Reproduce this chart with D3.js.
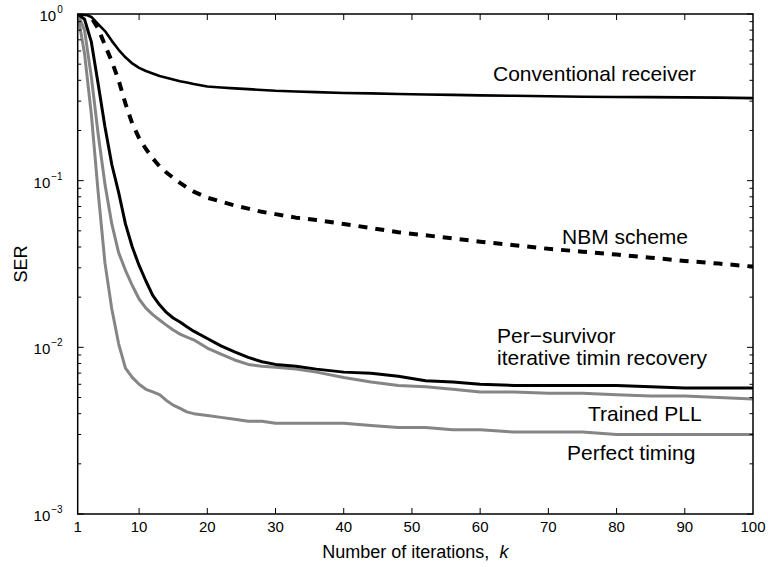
<!DOCTYPE html>
<html>
<head>
<meta charset="utf-8">
<script src="https://cdn.jsdelivr.net/npm/d3@7"></script>
<style>
  body { margin: 0; background: #fff; }
  text { font-family: "Liberation Sans", Arial, Helvetica, sans-serif; fill: #000; }
</style>
</head>
<body>
<div id="wrapper"></div>
<script>
// iteration index shared by every curve
const iterations = [1, 2, 3, 4, 5, 6, 7, 8, 9, 10, 11, 12, 13, 14, 15, 16, 17, 18, 20, 22,
    24, 26, 28, 30, 33, 36, 40, 44, 48, 52, 56, 60, 65, 70, 75, 80, 85, 90, 95, 100];

const conventional = [1, 1, 0.96, 0.87, 0.79, 0.69, 0.61, 0.55, 0.505, 0.475, 0.455, 0.44, 0.425, 0.415,
    0.405, 0.395, 0.388, 0.38, 0.367, 0.362, 0.358, 0.354, 0.35, 0.346, 0.343, 0.34, 0.336, 0.334,
    0.331, 0.329, 0.327, 0.325, 0.323, 0.321, 0.319, 0.318, 0.317, 0.316, 0.315, 0.313];

const nbm = [1, 1, 0.95, 0.82, 0.65, 0.52, 0.40, 0.29, 0.22, 0.18, 0.155, 0.136, 0.122, 0.112, 0.104,
    0.097, 0.091, 0.086, 0.079, 0.075, 0.071, 0.068, 0.065, 0.063, 0.060, 0.058, 0.055, 0.052, 0.049,
    0.047, 0.045, 0.043, 0.041, 0.039, 0.0375, 0.036, 0.0345, 0.033, 0.0318, 0.0305];

const perSurvivor = [1, 0.93, 0.68, 0.38, 0.21, 0.125, 0.085, 0.055, 0.04, 0.031, 0.025, 0.0205, 0.018,
    0.0162, 0.015, 0.0142, 0.0133, 0.0125, 0.0113, 0.0102, 0.0094, 0.0087, 0.0082, 0.0079, 0.0077,
    0.0074, 0.0071, 0.0070, 0.0067, 0.0063, 0.0062, 0.0060, 0.0059, 0.0059, 0.0059, 0.0059, 0.0058,
    0.0057, 0.0057, 0.0057];

const trainedPll = [1, 0.8, 0.42, 0.19, 0.095, 0.055, 0.037, 0.029, 0.0235, 0.0195, 0.0172, 0.0157,
    0.0146, 0.0136, 0.0127, 0.012, 0.0115, 0.0111, 0.0099, 0.0091, 0.0084, 0.0079, 0.0077, 0.0076,
    0.0074, 0.0071, 0.0066, 0.0062, 0.0059, 0.0058, 0.0056, 0.0054, 0.0054, 0.0053, 0.0053, 0.0052,
    0.0051, 0.0051, 0.0050, 0.0049];

const perfectTiming = [1, 0.58, 0.25, 0.085, 0.032, 0.017, 0.0105, 0.0075, 0.0066, 0.006, 0.0056,
    0.0054, 0.0052, 0.0048, 0.0045, 0.0043, 0.0041, 0.0040, 0.0039, 0.0038, 0.0037, 0.0036, 0.0036,
    0.0035, 0.0035, 0.0035, 0.0035, 0.0034, 0.0033, 0.0033, 0.0032, 0.0032, 0.0031, 0.0031, 0.0031,
    0.0030, 0.0030, 0.0030, 0.0030, 0.0030];

const xTicks = [1, 10, 20, 30, 40, 50, 60, 70, 80, 90, 100];
const yDecades = [0, -1, -2, -3];

const series = [
    { name: 'perfect', values: perfectTiming, color: '#858585', width: 3, dash: null },
    { name: 'trained', values: trainedPll, color: '#858585', width: 3, dash: null },
    { name: 'survivor', values: perSurvivor, color: '#000', width: 3, dash: null },
    { name: 'nbm', values: nbm, color: '#000', width: 4, dash: '9,8' },
    { name: 'conventional', values: conventional, color: '#000', width: 2.6, dash: null },
];

const labels = [
    { text: 'Conventional receiver', x: 493, y: 81 },
    { text: 'NBM scheme', x: 562, y: 244 },
    { text: 'Per\u2212survivor', x: 497, y: 343 },
    { text: 'iterative timin recovery', x: 497, y: 365 },
    { text: 'Trained PLL', x: 588, y: 421 },
    { text: 'Perfect timing', x: 567, y: 460 },
];

const width = 768;
const height = 567;
const plot = { left: 77.7, right: 753, top: 14, bottom: 514 };

const svg = d3.select('#wrapper')
    .append('svg')
    .attr('width', width)
    .attr('height', height);

const x = d3.scaleLinear()
    .domain([1, 100])
    .range([plot.left, plot.right]);

const y = d3.scaleLog()
    .domain([1e-3, 1])
    .range([plot.bottom, plot.top]);

svg.append('defs')
    .append('clipPath')
    .attr('id', 'plot-clip')
    .append('rect')
    .attr('x', plot.left)
    .attr('y', plot.top)
    .attr('width', plot.right - plot.left)
    .attr('height', plot.bottom - plot.top);

// curves
const line = d3.line()
    .x((d, i) => x(iterations[i]))
    .y(d => y(d));

svg.append('g')
    .attr('clip-path', 'url(#plot-clip)')
    .selectAll('path')
    .data(series)
    .join('path')
    .attr('d', d => line(d.values))
    .attr('fill', 'none')
    .attr('stroke', d => d.color)
    .attr('stroke-width', d => d.width)
    .attr('stroke-dasharray', d => d.dash)
    .attr('stroke-linejoin', 'round');

// ticks, drawn inward on all four sides
const ticks = svg.append('g')
    .attr('stroke', '#000')
    .attr('stroke-width', 1);

xTicks.slice(1, -1).forEach(t => {
    ticks.append('line').attr('x1', x(t)).attr('x2', x(t))
        .attr('y1', plot.bottom).attr('y2', plot.bottom - 6);
    ticks.append('line').attr('x1', x(t)).attr('x2', x(t))
        .attr('y1', plot.top).attr('y2', plot.top + 6);
});

yDecades.forEach(p => {
    const base = Math.pow(10, p);
    ticks.append('line').attr('x1', plot.left).attr('x2', plot.left + 6)
        .attr('y1', y(base)).attr('y2', y(base));
    ticks.append('line').attr('x1', plot.right).attr('x2', plot.right - 6)
        .attr('y1', y(base)).attr('y2', y(base));
    if (p === 0) return;
    d3.range(2, 10).forEach(m => {
        const v = m * base;
        ticks.append('line').attr('x1', plot.left).attr('x2', plot.left + 3.5)
            .attr('y1', y(v)).attr('y2', y(v));
        ticks.append('line').attr('x1', plot.right).attr('x2', plot.right - 3.5)
            .attr('y1', y(v)).attr('y2', y(v));
    });
});

// axes box
svg.append('rect')
    .attr('x', plot.left)
    .attr('y', plot.top)
    .attr('width', plot.right - plot.left)
    .attr('height', plot.bottom - plot.top)
    .attr('fill', 'none')
    .attr('stroke', '#000')
    .attr('stroke-width', 1.5);

// tick labels
svg.append('g')
    .selectAll('text')
    .data(xTicks)
    .join('text')
    .attr('x', d => x(d))
    .attr('y', plot.bottom + 18)
    .attr('text-anchor', 'middle')
    .attr('font-size', 15)
    .text(d => d);

const yLabel = svg.append('g')
    .selectAll('text')
    .data(yDecades)
    .join('text')
    .attr('x', plot.left - 15)
    .attr('y', d => y(Math.pow(10, d)) + 7)
    .attr('text-anchor', 'end')
    .attr('font-size', 15)
    .text('10');

yLabel.append('tspan')
    .attr('font-size', 10)
    .attr('dx', 1)
    .attr('dy', -8)
    .text(d => d === 0 ? '0' : '\u2212' + (-d));

// axis titles
svg.append('text')
    .attr('transform', `translate(27, ${(plot.top + plot.bottom) / 2}) rotate(-90)`)
    .attr('text-anchor', 'middle')
    .attr('font-size', 18)
    .text('SER');

const xTitle = svg.append('text')
    .attr('x', (plot.left + plot.right) / 2)
    .attr('y', 558)
    .attr('text-anchor', 'middle')
    .attr('font-size', 18);
xTitle.append('tspan').text('Number of iterations,\u00a0\u00a0');
xTitle.append('tspan').attr('font-style', 'italic').text('k');

// curve annotations
svg.append('g')
    .selectAll('text')
    .data(labels)
    .join('text')
    .attr('x', d => d.x)
    .attr('y', d => d.y)
    .attr('font-size', 21)
    .text(d => d.text);
</script>
</body>
</html>
